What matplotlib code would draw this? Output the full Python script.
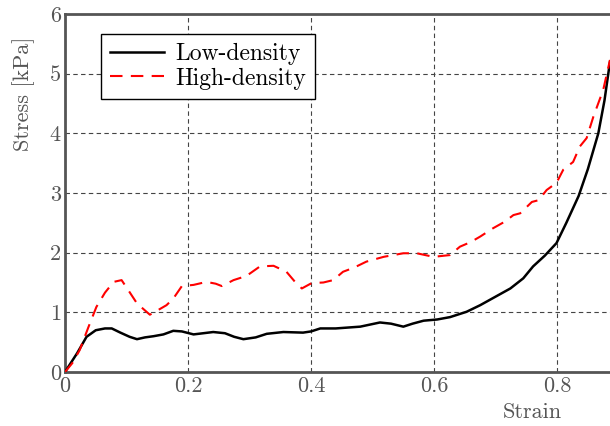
import matplotlib
matplotlib.use("Agg")
import matplotlib.pyplot as plt

low_x = [0.0, 0.02, 0.035, 0.05, 0.065, 0.076, 0.09, 0.105, 0.117, 0.13, 0.144, 0.16, 0.176, 0.19, 0.209,
         0.225, 0.241, 0.26, 0.275, 0.29, 0.31, 0.328, 0.355, 0.387, 0.40, 0.415, 0.44, 0.48, 0.512,
         0.53, 0.55, 0.565, 0.583, 0.605, 0.626, 0.653, 0.675, 0.696, 0.724, 0.745, 0.761, 0.78,
         0.799, 0.815, 0.835, 0.85, 0.867, 0.877, 0.886]
low_y = [0.0, 0.32, 0.59, 0.70, 0.73, 0.73, 0.66, 0.59, 0.55, 0.58, 0.60, 0.63, 0.69, 0.68, 0.63,
         0.65, 0.67, 0.65, 0.59, 0.55, 0.58, 0.64, 0.67, 0.66, 0.68, 0.73, 0.73, 0.76, 0.83,
         0.81, 0.76, 0.81, 0.86, 0.88, 0.92, 1.01, 1.12, 1.24, 1.40, 1.57, 1.77, 1.95,
         2.16, 2.50, 2.95, 3.40, 4.00, 4.55, 5.20]

high_x = [0.0, 0.012, 0.024, 0.038, 0.051, 0.065, 0.079, 0.092, 0.103, 0.117, 0.128, 0.138, 0.15, 0.165,
          0.176, 0.19, 0.209, 0.23, 0.245, 0.255, 0.274, 0.295, 0.317, 0.339, 0.36, 0.374, 0.385,
          0.401, 0.42, 0.436, 0.452, 0.47, 0.49, 0.518, 0.55, 0.572, 0.599, 0.626, 0.642,
          0.66, 0.675, 0.696, 0.715, 0.729, 0.74, 0.759, 0.770, 0.783, 0.799, 0.81, 0.826,
          0.837, 0.848, 0.859, 0.875, 0.886]
high_y = [0.0, 0.15, 0.37, 0.75, 1.09, 1.33, 1.51, 1.54, 1.37, 1.15, 1.05, 0.96, 1.03, 1.12,
          1.23, 1.44, 1.46, 1.51, 1.48, 1.44, 1.54, 1.61, 1.77, 1.78, 1.68, 1.51, 1.40,
          1.49, 1.50, 1.54, 1.68, 1.75, 1.85, 1.93, 1.99, 1.99, 1.93, 1.96, 2.10,
          2.18, 2.27, 2.41, 2.52, 2.63, 2.66, 2.85, 2.88, 3.05, 3.17, 3.39, 3.52,
          3.78, 3.92, 4.28, 4.73, 5.23]

xticks = [0, 0.2, 0.4, 0.6, 0.8]
xtick_labels = ["0", "0.2", "0.4", "0.6", "0.8"]
yticks = [0, 1, 2, 3, 4, 5, 6]
ytick_labels = ["0", "1", "2", "3", "4", "5", "6"]

plt.rcParams['font.family'] = ['cmr10', 'DejaVu Serif']
plt.rcParams['axes.formatter.use_mathtext'] = True

gray = '#555555'
fs = 16
fig = plt.figure(figsize=(6.10, 4.26), dpi=100)
ax = fig.add_axes([65/610, 54/426, 545/610, 358/426])

ax.plot(low_x, low_y, color='black', lw=1.8, label='Low-density', zorder=3)
ax.plot(high_x, high_y, color='red', lw=1.5, dashes=(6, 4), label='High-density', zorder=3)

ax.set_xlim(0, 0.886)
ax.set_ylim(0, 6)
ax.set_xticks(xticks)
ax.set_xticklabels(xtick_labels)
ax.set_yticks(yticks)
ax.set_yticklabels(ytick_labels)
ax.tick_params(length=0, labelsize=fs, labelcolor=gray, pad=3)
ax.grid(True, color='#444444', linestyle=(0, (4, 3)), lw=0.8)
ax.set_axisbelow(True)
for s in ['left', 'bottom', 'top']:
    ax.spines[s].set_color(gray)
    ax.spines[s].set_linewidth(2)
ax.spines['right'].set_visible(False)

ax.set_xlabel('Strain', fontsize=fs, color=gray)
ax.xaxis.set_label_coords(0.858, -0.084)
ax.set_ylabel('Stress [kPa]', fontsize=fs, color=gray)
ax.yaxis.set_label_coords(-0.055, 0.777)

leg = ax.legend(loc='upper left', bbox_to_anchor=(0.066, 0.944), fontsize=17, fancybox=False,
                framealpha=1, edgecolor='black', handlelength=2.3, borderpad=0.38,
                labelspacing=0.1, handletextpad=0.45, borderaxespad=0)
leg.get_frame().set_linewidth(1.0)

fig.savefig('out.png', dpi=100)
